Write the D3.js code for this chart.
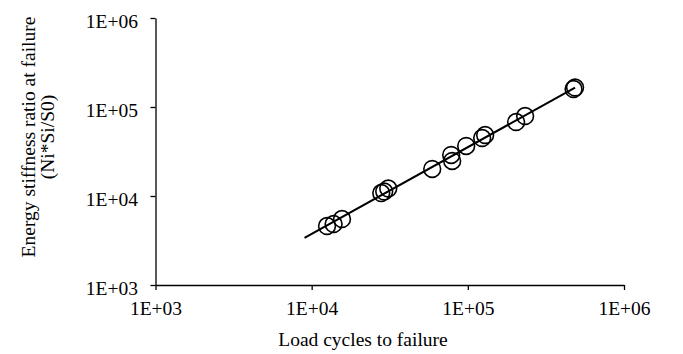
<!DOCTYPE html>
<html>
<head>
<meta charset="utf-8">
<script src="https://cdn.jsdelivr.net/npm/d3@7"></script>
<style>
  html, body { margin: 0; padding: 0; background: #fff; }
  svg { display: block; }
  text { font-family: "Liberation Serif", "Times New Roman", serif; fill: #000; }
</style>
</head>
<body>
<svg id="chart" width="683" height="354"></svg>
<script>
// Data
const loadCycles = [12540, 13820, 15640, 27900, 29150, 30940, 59150, 78240, 79400, 97600, 123500, 129100, 203800, 232700, 475400, 486000];
const stiffnessRatio = [4600, 4845, 5515, 10800, 11230, 12140, 20110, 28890, 24740, 36460, 44830, 48450, 67830, 79200, 159300, 165600];
const trendStartX = 9000; // power trendline forecast start
const xTickValues = [1e3, 1e4, 1e5, 1e6];
const xTickLabels = ["1E+03", "1E+04", "1E+05", "1E+06"];
const yTickValues = [1e3, 1e4, 1e5, 1e6];
const yTickLabels = ["1E+03", "1E+04", "1E+05", "1E+06"];
const xTitle = "Load cycles to failure";
const yTitleLines = ["Energy stiffness ratio at failure", "(Ni*Si/S0)"];

const svg = d3.select("#chart");
const fontSize = 19.5;
const fontFamily = "'Liberation Serif', 'Times New Roman', serif";

const x = d3.scaleLog().domain([1e3, 1e6]).range([155.5, 624]);
const y = d3.scaleLog().domain([1e3, 1e6]).range([285, 18]);

// Power trendline (least squares in log-log space)
const lx = loadCycles.map(Math.log10), ly = stiffnessRatio.map(Math.log10);
const mx = d3.mean(lx), my = d3.mean(ly);
const b = d3.sum(lx.map((v, i) => (v - mx) * (ly[i] - my))) / d3.sum(lx.map(v => (v - mx) ** 2));
const a = my - b * mx;
const fit = v => Math.pow(10, a + b * Math.log10(v));
const trendXs = [trendStartX, d3.max(loadCycles)];

// Axes
const xAxis = d3.axisBottom(x).tickValues(xTickValues)
  .tickFormat((d, i) => xTickLabels[i]).tickSizeInner(5).tickSizeOuter(0).tickPadding(11);
const gx = svg.append("g").attr("transform", "translate(0,285)").call(xAxis);
gx.attr("font-family", fontFamily).attr("font-size", fontSize);
gx.select(".domain").attr("stroke", "#000").attr("stroke-width", 1.3);
gx.selectAll(".tick line").attr("stroke", "#000").attr("stroke-width", 1.3);
gx.selectAll(".tick text").attr("font-size", fontSize).attr("font-family", fontFamily);

const yAxis = d3.axisLeft(y).tickValues(yTickValues)
  .tickFormat((d, i) => yTickLabels[i]).tickSizeInner(5).tickSizeOuter(0).tickPadding(12.5);
const gy = svg.append("g").attr("transform", "translate(155.5,0)").call(yAxis);
gy.attr("font-family", fontFamily).attr("font-size", fontSize);
gy.select(".domain").attr("stroke", "#000").attr("stroke-width", 1.3);
gy.selectAll(".tick line").attr("stroke", "#000").attr("stroke-width", 1.3);
gy.selectAll(".tick text").attr("font-size", fontSize).attr("dy", "0.5em").attr("font-family", fontFamily);

// Trendline
svg.append("path")
  .datum(trendXs)
  .attr("fill", "none").attr("stroke", "#000").attr("stroke-width", 2)
  .attr("d", d3.line().x(d => x(d)).y(d => y(fit(d))));

// Points
svg.append("g").selectAll("circle")
  .data(loadCycles.map((v, i) => [v, stiffnessRatio[i]]))
  .join("circle")
  .attr("cx", d => x(d[0])).attr("cy", d => y(d[1]))
  .attr("r", 8.4).attr("fill", "none").attr("stroke", "#000").attr("stroke-width", 1.6);

// Titles
svg.append("text").attr("x", 363).attr("y", 346).attr("text-anchor", "middle")
  .attr("font-family", fontFamily).attr("font-size", fontSize).text(xTitle);

const yt = svg.append("text").attr("text-anchor", "middle")
  .attr("font-family", fontFamily).attr("font-size", fontSize)
  .attr("transform", "translate(0,137) rotate(-90)");
yTitleLines.forEach((t, i) => {
  yt.append("tspan").attr("x", 0).attr("y", 35 + i * 19).text(t);
});
</script>
</body>
</html>
